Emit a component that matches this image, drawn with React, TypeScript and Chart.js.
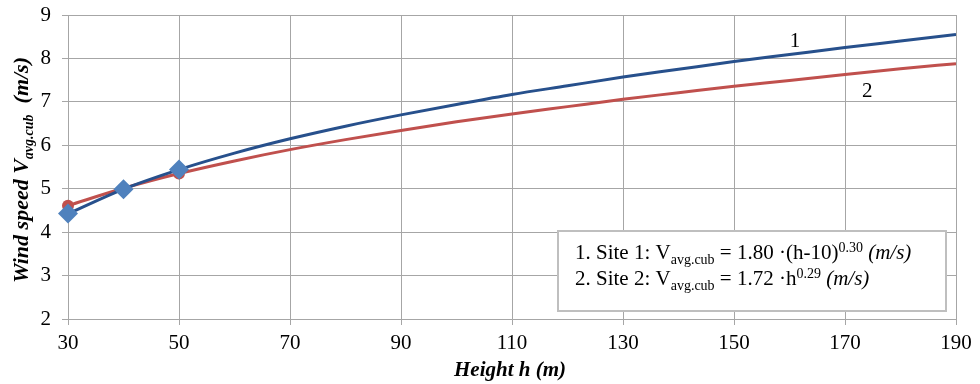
import React, { useEffect, useRef } from "react";
import { Chart, registerables } from "chart.js";

Chart.register(...registerables);

// ---- data ----
const heights = [30, 40, 50, 60, 70, 80, 90, 100, 110, 120, 130, 140, 150, 160, 170, 180, 190];
const site1Curve = [4.42, 4.99, 5.44, 5.82, 6.15, 6.44, 6.70, 6.94, 7.17, 7.37, 7.57, 7.75, 7.93, 8.09, 8.25, 8.40, 8.55];
const site2Curve = [4.61, 5.01, 5.35, 5.64, 5.90, 6.13, 6.34, 6.54, 6.72, 6.89, 7.06, 7.21, 7.36, 7.49, 7.63, 7.76, 7.88];
const measuredHeights = [30, 40, 50];
const site1Measured = [4.43, 4.99, 5.44];
const site2Measured = [4.61, 5.0, 5.35];
const xTicks = { min: 30, max: 190, step: 20 };
const yTicks = { min: 2, max: 9, step: 1 };
const curveLabels = [
  { text: "1", x: 161, y: 8.38 },
  { text: "2", x: 174, y: 7.23 },
];

const SERIF = "'Liberation Serif', 'Times New Roman', serif";
const BLUE_LINE = "#27508C";
const RED_LINE = "#C0504D";
const BLUE_MARK = "#4F81BD";
const GRID = "#A6A6A6";

Chart.defaults.font.family = SERIF;
Chart.defaults.font.size = 21;
Chart.defaults.color = "#000";

type Seg = { t: string; f: string; dy?: number };

function drawRich(ctx: CanvasRenderingContext2D, segs: Seg[], x: number, y: number, center = false) {
  let total = 0;
  for (const s of segs) {
    ctx.font = s.f;
    total += ctx.measureText(s.t).width;
  }
  let cx = center ? x - total / 2 : x;
  ctx.textAlign = "left";
  ctx.textBaseline = "alphabetic";
  for (const s of segs) {
    ctx.font = s.f;
    ctx.fillText(s.t, cx, y + (s.dy || 0));
    cx += ctx.measureText(s.t).width;
  }
}

const annotationPlugin = {
  id: "annot",
  afterDraw(chart: any) {
    const ctx: CanvasRenderingContext2D = chart.ctx;
    const xs = chart.scales.x;
    const ys = chart.scales.y;
    ctx.save();
    ctx.fillStyle = "#000";

    // curve number labels
    ctx.font = `21px ${SERIF}`;
    ctx.textAlign = "center";
    ctx.textBaseline = "middle";
    for (const l of curveLabels) {
      ctx.fillText(l.text, xs.getPixelForValue(l.x), ys.getPixelForValue(l.y));
    }

    // legend box
    const bx = 558, by = 231, bw = 388, bh = 80;
    ctx.fillStyle = "#fff";
    ctx.fillRect(bx, by, bw, bh);
    ctx.strokeStyle = "#BFBFBF";
    ctx.lineWidth = 2;
    ctx.strokeRect(bx, by, bw, bh);
    ctx.fillStyle = "#000";
    const N = `21px ${SERIF}`;
    const S = `14px ${SERIF}`;
    const I = `italic 21px ${SERIF}`;
    drawRich(ctx, [
      { t: "1. Site 1: V", f: N },
      { t: "avg.cub", f: S, dy: 5 },
      { t: " = 1.80 \u00B7(h-10)", f: N },
      { t: "0.30", f: S, dy: -7 },
      { t: " (m/s)", f: I },
    ], 575, 259);
    drawRich(ctx, [
      { t: "2. Site 2: V", f: N },
      { t: "avg.cub", f: S, dy: 5 },
      { t: " = 1.72 \u00B7h", f: N },
      { t: "0.29", f: S, dy: -7 },
      { t: " (m/s)", f: I },
    ], 575, 285);

    // axis titles
    const B = `bold italic 21px ${SERIF}`;
    const BS = `bold italic 14px ${SERIF}`;
    ctx.textAlign = "center";
    ctx.textBaseline = "alphabetic";
    ctx.font = B;
    ctx.fillText("Height h (m)", 510, 376);

    ctx.translate(28, 170);
    ctx.rotate(-Math.PI / 2);
    drawRich(ctx, [
      { t: "Wind speed V", f: `bold italic 22px ${SERIF}` },
      { t: "avg.cub", f: BS, dy: 5 },
      { t: "  (m/s)", f: `bold italic 22px ${SERIF}` },
    ], 0, 0, true);
    ctx.restore();
  },
};

export default function App() {
  const ref = useRef<HTMLCanvasElement | null>(null);
  useEffect(() => {
    if (!ref.current) return;
    const tickFont = { family: SERIF, size: 21, style: "normal", weight: "normal" };
    const chart = new Chart(ref.current, {
      type: "line",
      data: {
        datasets: [
          {
            label: "Site 2 fit",
            data: heights.map((h, i) => ({ x: h, y: site2Curve[i] })),
            borderColor: RED_LINE,
            borderWidth: 3,
            pointRadius: 0,
            cubicInterpolationMode: "monotone",
            order: 4,
          },
          {
            label: "Site 1 fit",
            data: heights.map((h, i) => ({ x: h, y: site1Curve[i] })),
            borderColor: BLUE_LINE,
            borderWidth: 3,
            pointRadius: 0,
            cubicInterpolationMode: "monotone",
            order: 3,
          },
          {
            label: "Site 2 measured",
            data: measuredHeights.map((h, i) => ({ x: h, y: site2Measured[i] })),
            showLine: false,
            pointStyle: "circle",
            pointRadius: 6,
            backgroundColor: RED_LINE,
            borderColor: RED_LINE,
            borderWidth: 0,
            clip: false,
            order: 2,
          },
          {
            label: "Site 1 measured",
            data: measuredHeights.map((h, i) => ({ x: h, y: site1Measured[i] })),
            showLine: false,
            pointStyle: "rectRot",
            pointRadius: 10,
            backgroundColor: BLUE_MARK,
            borderColor: BLUE_MARK,
            borderWidth: 0,
            clip: false,
            order: 1,
          },
        ] as any,
      },
      options: {
        animation: false,
        responsive: false,
        devicePixelRatio: 1,
        layout: { padding: { top: 15, right: 24, left: 0, bottom: 0 } },
        plugins: { legend: { display: false }, tooltip: { enabled: false } },
        scales: {
          x: {
            type: "linear",
            min: xTicks.min,
            max: xTicks.max,
            ticks: {
              stepSize: xTicks.step,
              color: "#000",
              font: tickFont,
              padding: 6,
              maxRotation: 0,
            },
            grid: { color: GRID, tickLength: 6, lineWidth: 1 },
            border: { color: GRID },
            afterFit: (s: any) => { s.height = 65; s.paddingLeft = 0; s.paddingRight = 0; },
          },
          y: {
            type: "linear",
            min: yTicks.min,
            max: yTicks.max,
            ticks: {
              stepSize: yTicks.step,
              color: "#000",
              font: tickFont,
              padding: 11,
            },
            grid: { color: GRID, tickLength: 6, lineWidth: 1 },
            border: { color: GRID },
            afterFit: (s: any) => { s.width = 68; s.paddingTop = 0; s.paddingBottom = 0; },
          },
        },
      } as any,
      plugins: [annotationPlugin],
    });
    return () => chart.destroy();
  }, []);
  return (
    <div style={{ position: "absolute", left: 0, top: 0, width: 980, height: 384, background: "#fff" }}>
      <canvas ref={ref} width={980} height={384} style={{ width: 980, height: 384 }} />
    </div>
  );
}
